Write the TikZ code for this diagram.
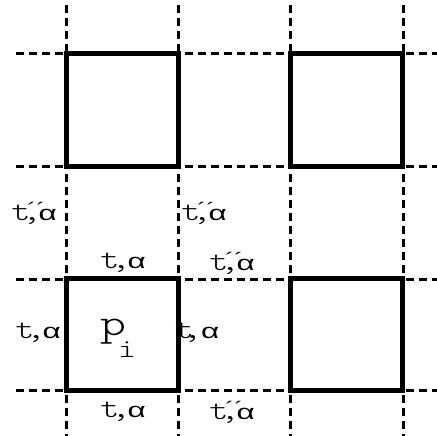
\documentclass[tikz,border=0pt]{standalone}
\usepackage{fontspec}
\newfontfamily\labfont[FakeStretch=1.3]{Latin Modern Mono Light}
\newfontfamily\grkfont[FakeStretch=1.5]{Liberation Sans}
\usetikzlibrary{positioning}
\tikzset{
	cell/.style={draw, line width=5pt, minimum size=112pt, inner sep=0pt},
	grid/.style={line width=3pt, dash pattern=on 8pt off 5pt},
	lbl/.style={inner sep=0pt, font=\fontsize{28}{32}\labfont}
}
\newcommand{\alf}{{\fontsize{21}{21}\grkfont α}}
\newcommand{\ta}{t\kern-8pt,\kern-3pt\alf}
\newcommand{\tpp}{t\kern-3pt\rlap{\raisebox{5pt}{\fontsize{18}{18}\grkfont ´´}}\kern-5pt,\kern-3pt\alf}
\begin{document}
\begin{tikzpicture}[x=1pt, y=-1pt]
			\useasboundingbox (0,0) rectangle (437,436);
			\foreach \x in {66,178,290,403} { \draw[grid] (\x,5) -- (\x,436); }
			\foreach \y in {54,166,279,390} { \draw[grid] (16,\y) -- (437,\y); }
			\node[cell] (c11) at (122,110) {};
			\node[cell] (c12) at (346.5,110) {};
			\node[cell] (c21) at (122,334.5) {};
			\node[cell] (c22) at (346.5,334.5) {};
			\node[lbl] (pi) at (118,338) {\fontsize{38}{38}\labfont p\kern-8pt\raisebox{-22pt}{\fontsize{26}{26}\labfont i}};
			\node[lbl] (a1) at (34,213) {\tpp};
			\node[lbl] (a2) at (204,213) {\tpp};
			\node[lbl] (a3) at (123,263) {\ta};
			\node[lbl] (a4) at (232,263) {\tpp};
			\node[lbl] (a5) at (38,333) {\ta};
			\node[lbl] (a6) at (197,333) {t\kern-11pt,\kern-1pt\alf};
			\node[lbl] (a7) at (123,412) {\ta};
			\node[lbl] (a8) at (232,412) {\tpp};
\end{tikzpicture}
\end{document}
